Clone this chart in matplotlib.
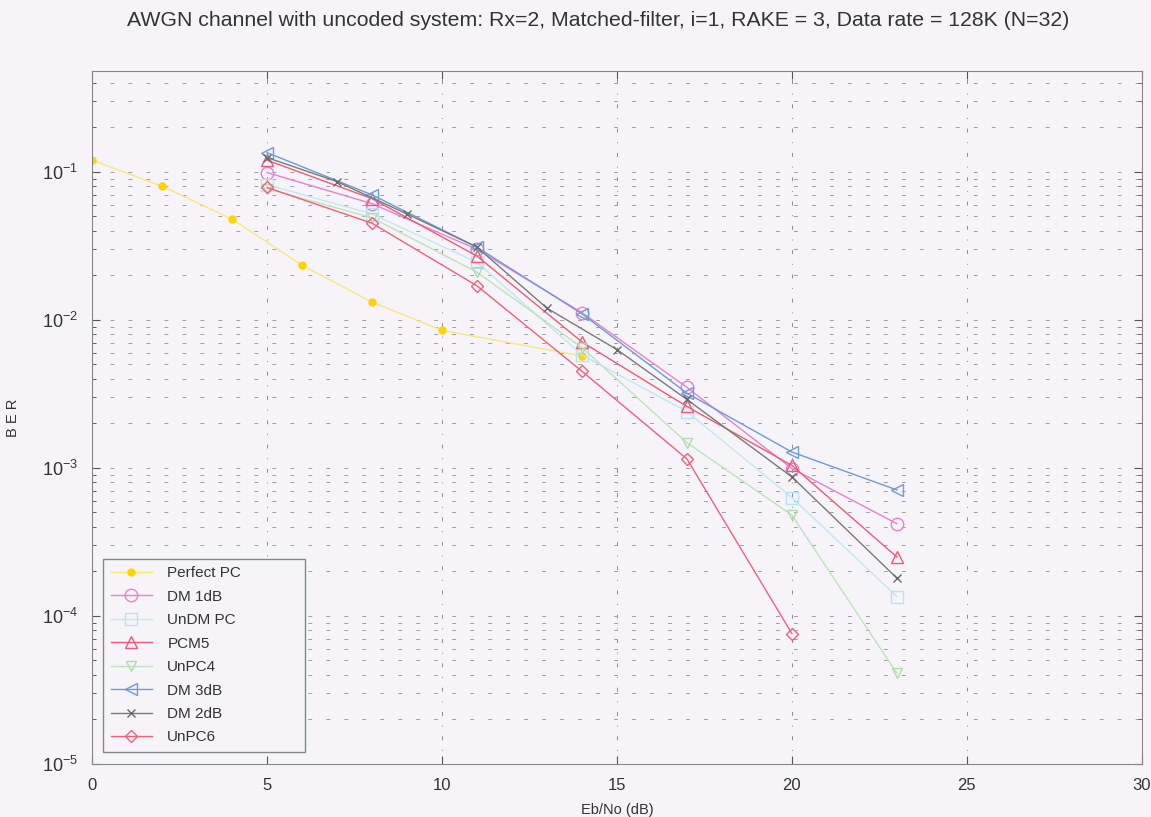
import matplotlib.pyplot as plt
from matplotlib.ticker import LogLocator, NullFormatter

plt.rcParams['font.family'] = ['Liberation Sans', 'DejaVu Sans']

# Eb/No points (dB) and BER per scheme
x_perfect = [0, 2, 4, 6, 8, 10, 14]
ber_perfect = [0.12, 0.080, 0.048, 0.0234, 0.0132, 0.0085, 0.0057]

x_sim = [5, 8, 11, 14, 17, 20, 23]
ber_dm1 = [0.099, 0.061, 0.030, 0.0112, 0.0035, 0.00099, 0.00042]
ber_undm = [0.082, 0.052, 0.0245, 0.0058, 0.0024, 0.00063, 0.000135]
ber_pcm5 = [0.12, 0.066, 0.027, 0.0071, 0.0026, 0.00104, 0.00025]
ber_unpc4 = [0.077, 0.049, 0.021, 0.0065, 0.00148, 0.00048, 0.000041]
ber_dm3 = [0.135, 0.070, 0.031, 0.011, 0.0032, 0.00128, 0.00071]

x_dm2 = [5, 7, 9, 11, 13, 15, 17, 20, 23]
ber_dm2 = [0.125, 0.086, 0.052, 0.031, 0.012, 0.0063, 0.0029, 0.00087, 0.00018]

x_unpc6 = [5, 8, 11, 14, 17, 20]
ber_unpc6 = [0.0785, 0.045, 0.017, 0.0045, 0.00115, 0.000076]

bg = '#f6f4f8'
fig = plt.figure(figsize=(11.51, 8.17), dpi=100, facecolor=bg)
ax = fig.add_axes([0.080, 0.065, 0.912, 0.848], facecolor=bg)

ax.semilogy(x_perfect, ber_perfect, '-', color='#f7e87a', lw=1, marker='o',
            mfc='#ffd400', mec='#ffd400', ms=5, label='Perfect PC')
ax.semilogy(x_sim, ber_dm1, '-', color='#ec7fcf', lw=1, marker='o',
            mfc='none', mec='#ec7fcf', ms=9, label='DM 1dB')
ax.semilogy(x_sim, ber_undm, '-', color='#c4e6f4', lw=1, marker='s',
            mfc='none', mec='#b8e2f4', ms=9, label='UnDM PC')
ax.semilogy(x_sim, ber_pcm5, '-', color='#f05a78', lw=1, marker='^',
            mfc='none', mec='#f05a78', ms=8, label='PCM5')
ax.semilogy(x_sim, ber_unpc4, '-', color='#bfe2bc', lw=1, marker='v',
            mfc='none', mec='#b0dcae', ms=7, label='UnPC4')
ax.semilogy(x_sim, ber_dm3, '-', color='#6e9ad8', lw=1, marker='<',
            mfc='none', mec='#6e9ad8', ms=8, label='DM 3dB')
ax.semilogy(x_dm2, ber_dm2, '-', color='#7a7a7a', lw=1, marker='x',
            mec='#6a6a6a', ms=6, label='DM 2dB')
ax.semilogy(x_unpc6, ber_unpc6, '-', color='#f2607a', lw=1, marker='D',
            mfc='none', mec='#f2607a', ms=6, label='UnPC6')

ax.set_xlim(0, 30)
ax.set_ylim(1e-5, 0.48)
ax.set_xticks(range(0, 31, 5))
ax.yaxis.set_major_locator(LogLocator(base=10, numticks=10))
ax.yaxis.set_minor_locator(LogLocator(base=10, subs=range(2, 10), numticks=50))
ax.yaxis.set_minor_formatter(NullFormatter())

ax.tick_params(which='both', direction='in', top=True, right=True,
               colors='#555555', labelcolor='#333333')
ax.tick_params(which='major', length=6)
ax.tick_params(which='minor', length=3)
ax.tick_params(axis='x', labelsize=12, pad=10)
ax.tick_params(axis='y', labelsize=13, pad=10)

ax.grid(True, which='both', axis='y', color='#a0a0a0', lw=0.7,
        linestyle=(0, (4, 14.5)))
ax.grid(True, which='major', axis='x', color='#8a8a8a', lw=0.7,
        linestyle=(0, (4, 10, 1, 10)))
for s in ax.spines.values():
    s.set_color('#888888')

fig.text(0.52, 0.975, 'AWGN channel with uncoded system: Rx=2, Matched-filter, i=1, '
         'RAKE = 3, Data rate = 128K (N=32)', fontsize=15.3, color='#333333',
         ha='center', va='center')
ax.set_xlabel('Eb/No (dB)', fontsize=10.5, color='#333333', labelpad=7)
ax.set_ylabel('B E R', fontsize=10.5, color='#333333', labelpad=16)

leg = ax.legend(loc='lower left', bbox_to_anchor=(0.0105, 0.017, 0.192, 0.3),
                mode='expand', fontsize=11, frameon=True, fancybox=False,
                borderpad=0.5, labelspacing=0.62, handlelength=2.7,
                handletextpad=1.0, borderaxespad=0)
leg.get_frame().set_edgecolor('#7f8a80')
leg.get_frame().set_facecolor(bg)
leg.get_frame().set_alpha(1)
for t in leg.get_texts():
    t.set_color('#333333')

fig.savefig('out.png', dpi=100, facecolor=bg)
